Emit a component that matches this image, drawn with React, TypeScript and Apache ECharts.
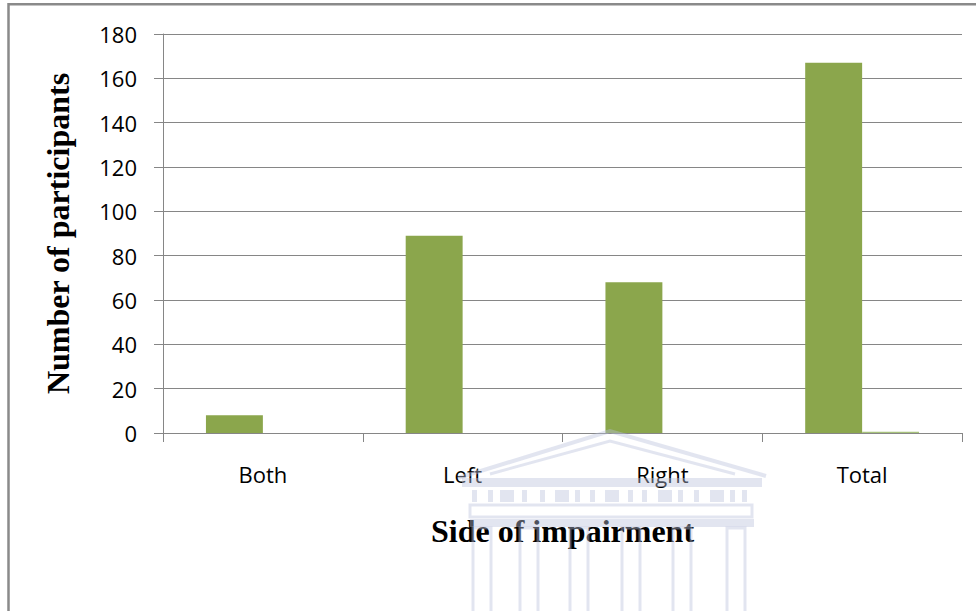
import React, { useEffect, useRef } from "react";
import * as echarts from "echarts";

const categories = ["Both", "Left", "Right", "Total"];
const seriesMain = [8, 89, 68, 167];
const seriesSecond = [0, 0, 0, 0.6];
const yTicks = { min: 0, max: 180, interval: 20 };
const xTitle = "Side of impairment";
const yTitle = "Number of participants";

const WM = "rgba(186,192,220,0.42)";

function watermark(): any[] {
  const els: any[] = [];
  // pediment (outer and inner triangle outlines)
  els.push({
    type: "polyline",
    shape: { points: [[458, 478], [610, 431], [766, 476]] },
    style: { stroke: WM, lineWidth: 4, fill: "none" },
    z: 100,
  });
  els.push({
    type: "polyline",
    shape: { points: [[490, 474], [610, 441], [735, 474]] },
    style: { stroke: WM, lineWidth: 3, fill: "none" },
    z: 100,
  });
  els.push({
    type: "rect",
    shape: { x: 462, y: 478, width: 300, height: 9 },
    style: { fill: WM },
    z: 100,
  });
  // frieze
  const friezeX = [472, 488, 500, 522, 540, 555, 575, 590, 605, 628, 642, 658, 678, 694, 710, 730, 742];
  friezeX.forEach((x, i) => {
    els.push({
      type: "rect",
      shape: { x, y: 490, width: i % 3 === 2 ? 14 : 5, height: 12 },
      style: { fill: WM },
      z: 100,
    });
  });
  els.push({
    type: "rect",
    shape: { x: 470, y: 505, width: 282, height: 12 },
    style: { stroke: WM, lineWidth: 3, fill: "none" },
    z: 100,
  });
  els.push({
    type: "rect",
    shape: { x: 470, y: 519, width: 284, height: 8 },
    style: { fill: WM },
    z: 100,
  });
  const cols = [473, 520, 570, 622, 673, 727];
  cols.forEach((x) => {
    els.push({
      type: "rect",
      shape: { x, y: 528, width: 18, height: 100 },
      style: { stroke: WM, lineWidth: 3, fill: "none" },
      z: 100,
    });
  });
  return els;
}

export default function App() {
  const ref = useRef<HTMLDivElement>(null);
  useEffect(() => {
    if (!ref.current) return;
    const chart = echarts.init(ref.current, null, { renderer: "svg" });
    const axisColor = "#868686";
    chart.setOption({
      animation: false,
      backgroundColor: "#ffffff",
      grid: { left: 163, right: 14, top: 34, bottom: 178, containLabel: false },
      xAxis: {
        type: "category",
        data: categories,
        name: xTitle,
        nameLocation: "middle",
        nameGap: 98,
        nameTextStyle: {
          fontFamily: "Liberation Serif",
          fontWeight: "bold",
          fontSize: 32,
          color: "#000",
          verticalAlign: "middle",
        },
        axisLine: { show: true, lineStyle: { color: axisColor, width: 1 } },
        axisTick: { show: true, length: 9, lineStyle: { color: axisColor }, alignWithLabel: false },
        axisLabel: { fontFamily: "Open Sans", fontSize: 22, color: "#000", margin: 30 },
        splitLine: { show: false },
      },
      yAxis: {
        type: "value",
        min: yTicks.min,
        max: yTicks.max,
        interval: yTicks.interval,
        name: yTitle,
        nameLocation: "middle",
        nameGap: 105,
        nameRotate: 90,
        nameTextStyle: {
          fontFamily: "Liberation Serif",
          fontWeight: "bold",
          fontSize: 32,
          color: "#000",
          verticalAlign: "middle",
        },
        axisLine: { show: true, lineStyle: { color: axisColor, width: 1 } },
        axisTick: { show: true, length: 9, lineStyle: { color: axisColor } },
        axisLabel: { fontFamily: "Open Sans", fontSize: 22, color: "#000", margin: 26 },
        splitLine: { show: true, lineStyle: { color: axisColor, width: 1 } },
      },
      series: [
        {
          type: "bar",
          data: seriesMain,
          itemStyle: { color: "#8BA64C" },
          barGap: "0%",
          barCategoryGap: "43%",
        },
        {
          type: "bar",
          data: seriesSecond,
          itemStyle: { color: "#A7C27C" },
          barGap: "0%",
          barCategoryGap: "43%",
        },
      ],
      graphic: [
        {
          type: "rect",
          shape: { x: 8.5, y: 4.2, width: 1100, height: 800 },
          style: { stroke: "#8a8a8a", lineWidth: 2.5, fill: "none" },
          z: 50,
        },
        ...watermark(),
      ],
    });
    return () => chart.dispose();
  }, []);
  return (
    <div
      ref={ref}
      style={{ position: "absolute", left: 0, top: 0, width: 976, height: 611 }}
    />
  );
}
